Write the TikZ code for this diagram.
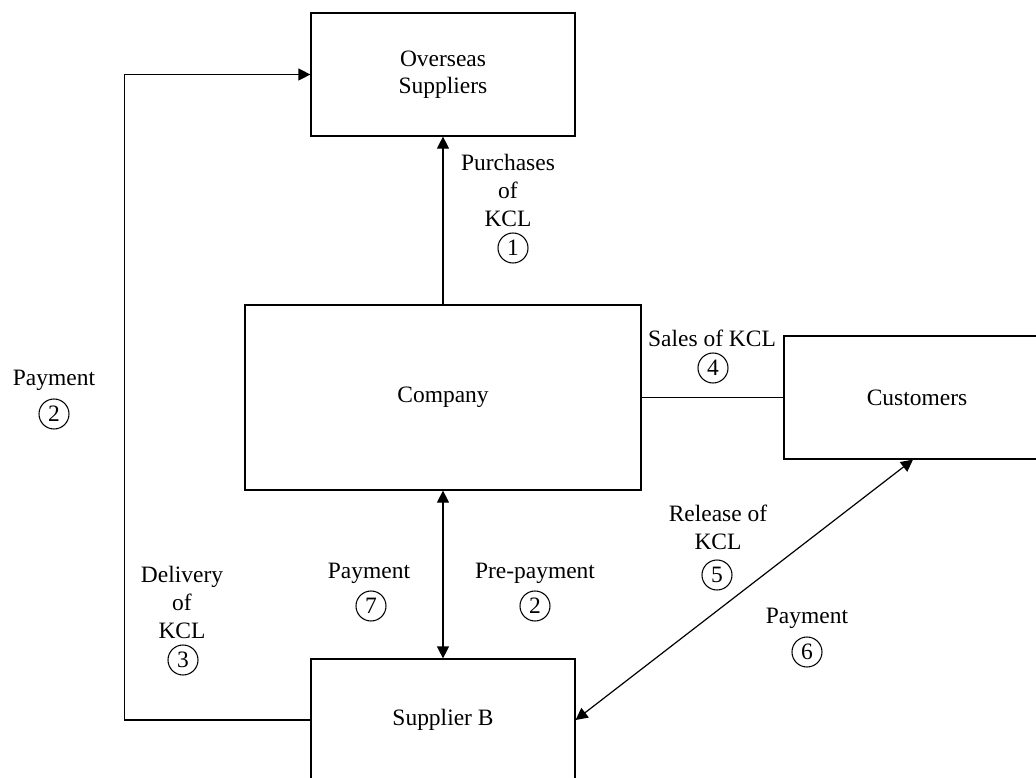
\documentclass[tikz,border=0pt]{standalone}
\usepackage{fontspec}
\setmainfont{Liberation Serif}
\usepackage{tikz}
\usetikzlibrary{arrows.meta, positioning}

\begin{document}
\begin{tikzpicture}[
  x=0.75pt, y=-0.75pt,
  line width=0.9pt,
  box/.style={draw, align=center, inner sep=0pt,
              font=\fontsize{17.6}{20}\selectfont},
  arrow/.style={-{Triangle[length=9pt, width=9pt]}},
  twoway/.style={{Triangle[length=9pt, width=9pt]}-{Triangle[length=9pt, width=9pt]}},
  tag/.style={align=center, inner sep=0pt, font=\fontsize{17.6}{21}\selectfont},
  num/.style={draw, circle, minimum size=22.5pt, inner sep=0pt,
              line width=0.8pt, font=\fontsize{17.6}{20}\selectfont}
]
  \useasboundingbox (0,0) rectangle (1036,778);

  % boxes
  \node[box, minimum width=198pt, minimum height=92.25pt] (overseas) at (443,74.5) {Overseas\\Suppliers};
  \node[box, minimum width=297pt, minimum height=138.75pt] (company) at (443,397.5) {Company};
  \node[box, minimum width=199.5pt, minimum height=92.25pt] (customers) at (917,397.5) {Customers};
  \node[box, minimum width=198pt, minimum height=91.5pt] (supplier) at (443,720) {Supplier B};

  % connectors
  \draw[arrow] (company.north) -- (overseas.south);
  \draw (company.east) -- (customers.west);
  \draw[twoway] (company.south) -- (supplier.north);
  \draw[twoway] (supplier.east) -- ([xshift=-3pt]customers.south);
  \draw[arrow] (supplier.west) -- ++(-186,0) |- (overseas.west);

  % flow labels
  \node[tag] (purch)   at (508,190) {Purchases\\of\\KCL};
  \node[num] (n1)      at (513,248) {1};
  \node[tag] (sales)   at (712,338) {Sales of KCL};
  \node[num] (n4)      at (713,368) {4};
  \node[tag] (payleft) at (54,380)  {Payment};
  \node[num] (n2a)     at (54,414)  {2};
  \node[tag] (deliv)   at (182,602) {Delivery\\of\\KCL};
  \node[num] (n3)      at (183,660) {3};
  \node[tag] (pay7)    at (369,573) {Payment};
  \node[num] (n7)      at (371,606) {7};
  \node[tag] (prepay)  at (535,573) {Pre-payment};
  \node[num] (n2b)     at (535,606) {2};
  \node[tag] (release) at (718,527) {Release of\\KCL};
  \node[num] (n5)      at (717,575) {5};
  \node[tag] (pay6)    at (807,618) {Payment};
  \node[num] (n6)      at (807,652) {6};
\end{tikzpicture}
\end{document}
